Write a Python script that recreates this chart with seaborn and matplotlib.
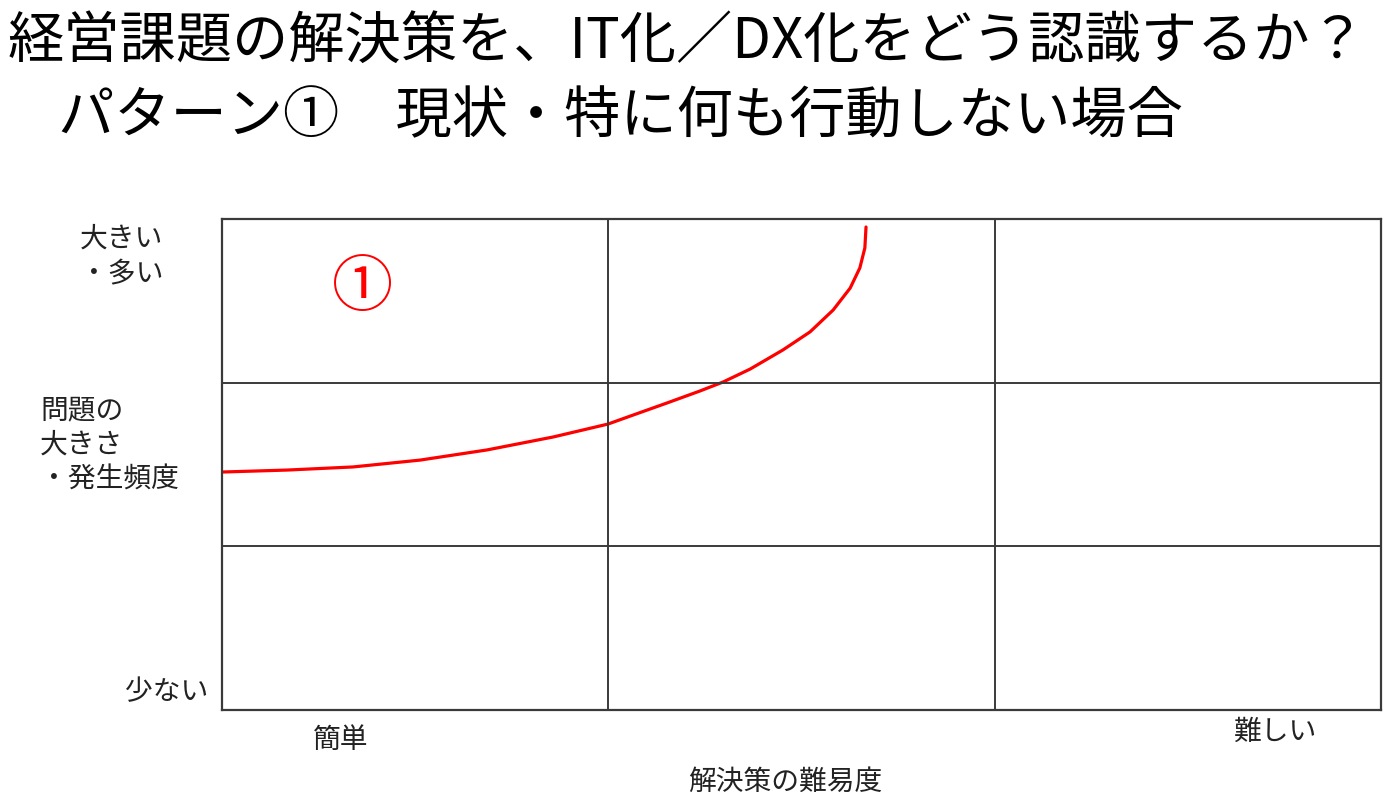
import matplotlib
matplotlib.use("Agg")
import matplotlib.pyplot as plt
import seaborn as sns
import pandas as pd

# Title lines
title_line1 = "経営課題の解決策を、IT化／DX化をどう認識するか？"
title_line2 = "パターン①　現状・特に何も行動しない場合"

# Axis labels around the 3x3 grid
y_top_label = "大きい\n・多い"
y_mid_label = "問題の\n大きさ\n・発生頻度"
y_bottom_label = "少ない"
x_left_label = "簡単"
x_right_label = "難しい"
x_axis_title = "解決策の難易度"
curve_label = "①"

# Red curve (difficulty vs problem size)
curve_x = [0.000, 0.168, 0.339, 0.513, 0.686, 0.857, 0.999, 1.064, 1.152, 1.237,
           1.297, 1.367, 1.452, 1.522, 1.582, 1.626, 1.651, 1.664, 1.667]
curve_y = [1.454, 1.466, 1.485, 1.527, 1.589, 1.668, 1.747, 1.802, 1.876, 1.949,
           2.004, 2.083, 2.200, 2.310, 2.444, 2.578, 2.701, 2.823, 2.951]

W, H = 1400, 811

sns.set_theme(style="white")
plt.rcParams['font.family'] = ['Noto Sans CJK JP', 'DejaVu Sans']

fig = plt.figure(figsize=(W / 100, H / 100), dpi=100)
ax = fig.add_axes([222 / W, 1 - 710 / H, (1381 - 222) / W, (710 - 219) / H])

df = pd.DataFrame({"x": curve_x, "y": curve_y})
sns.lineplot(data=df, x="x", y="y", sort=False, estimator=None,
             color="#ff0000", linewidth=2.3, ax=ax,
             solid_capstyle="round", solid_joinstyle="round")

ax.set_xlim(0, 3)
ax.set_ylim(0, 3)
for v in (1, 2):
    ax.axvline(v, color="#3a3a3a", linewidth=1.4)
    ax.axhline(v, color="#3a3a3a", linewidth=1.4)
for s in ax.spines.values():
    s.set_visible(True)
    s.set_color("#3a3a3a")
    s.set_linewidth(1.6)
ax.set_xticks([])
ax.set_yticks([])
ax.set_xlabel("")
ax.set_ylabel("")

ax.text(0.365, 2.572, curve_label, color="#ff0000", fontsize=44,
        ha="center", va="center", fontweight="normal")


def px(x, y):
    return x / W, 1 - y / H


fig.text(*px(8, 42), title_line1, fontsize=40.5, ha="left", va="center", color="black")
fig.text(*px(58, 118), title_line2, fontsize=40.5, ha="left", va="center", color="black")

label_kw = dict(fontsize=20, color="#222222", linespacing=1.2)
fig.text(*px(80, 256), y_top_label, ha="left", va="center", **label_kw)
fig.text(*px(40, 445), y_mid_label, ha="left", va="center", **label_kw)
fig.text(*px(125, 692), y_bottom_label, ha="left", va="center", **label_kw)
fig.text(*px(341, 740), x_left_label, ha="center", va="center", **label_kw)
fig.text(*px(1275, 732), x_right_label, ha="center", va="center", **label_kw)
fig.text(*px(785, 782), x_axis_title, ha="center", va="center", **label_kw)

fig.savefig("out.png", dpi=100, facecolor="white")
